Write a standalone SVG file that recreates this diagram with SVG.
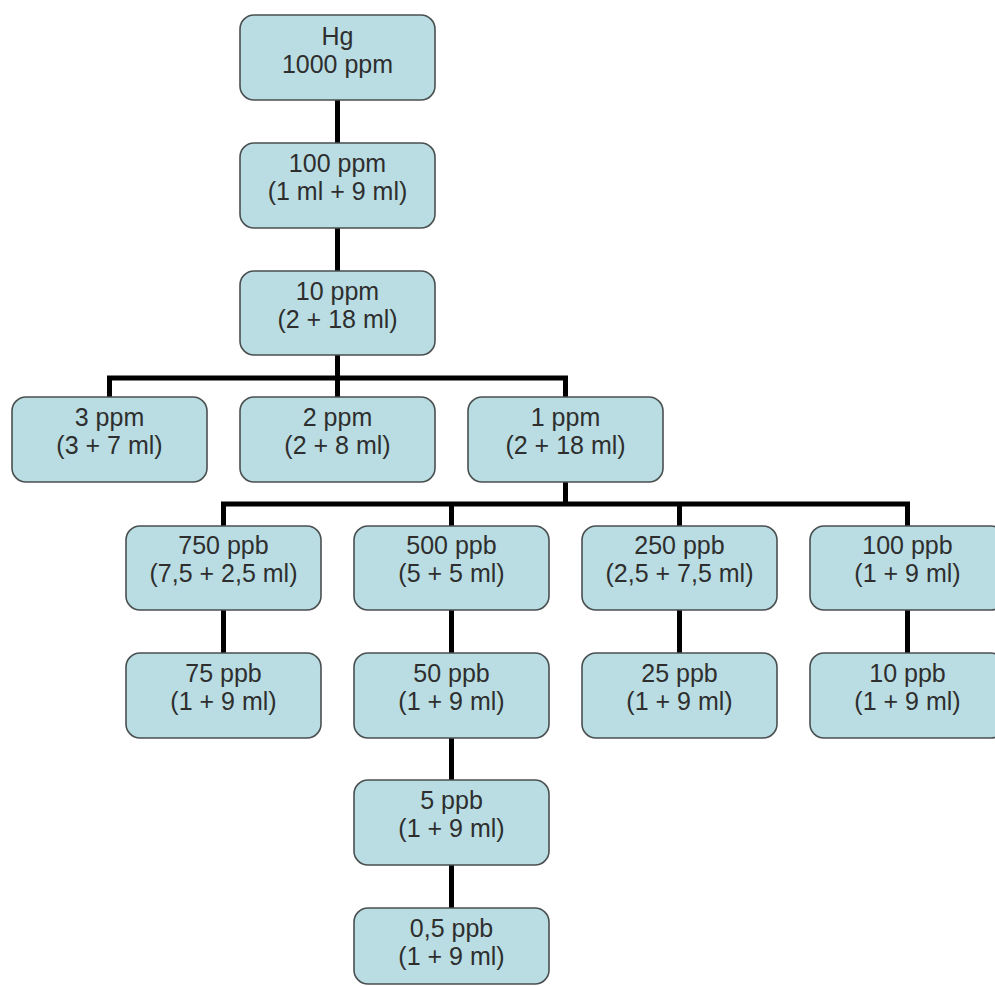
<svg xmlns="http://www.w3.org/2000/svg" width="995" height="987" viewBox="0 0 995 987">
<style>
.box{fill:#b9dde2;stroke:#4a4f50;stroke-width:1.6}
.t{font-family:"Liberation Sans",Arial,sans-serif;font-size:25px;fill:#2e2e2e;text-anchor:middle}
.c{fill:none;stroke:#000;stroke-width:5;stroke-linejoin:miter}
</style>
<rect width="995" height="987" fill="#fff"/>
<g id="connectors">
<path class="c" d="M337.5 100V143M337.5 228V271M337.5 355V397M109.5 397V378H565.5V397"/>
<path class="c" d="M565.5 482V504M223.5 526V504H907.5V526M451.5 504V526M679.5 504V526"/>
<path class="c" d="M223.5 610V653M451.5 610V653M679.5 610V653M907.5 610V653M451.5 738V780M451.5 865V908"/>
</g>
<g id="n_hg"><rect class="box" x="240" y="15" width="195" height="85" rx="14"/><text class="t" x="337.5" y="45">Hg</text><text class="t" x="337.5" y="73">1000 ppm</text></g>
<g id="n_100ppm"><rect class="box" x="240" y="143" width="195" height="85" rx="14"/><text class="t" x="337.5" y="172">100 ppm</text><text class="t" x="337.5" y="200">(1 ml + 9 ml)</text></g>
<g id="n_10ppm"><rect class="box" x="240" y="271" width="195" height="84" rx="14"/><text class="t" x="337.5" y="300">10 ppm</text><text class="t" x="337.5" y="328">(2 + 18 ml)</text></g>
<g id="n_3ppm"><rect class="box" x="12" y="397" width="195" height="85" rx="14"/><text class="t" x="109.5" y="426">3 ppm</text><text class="t" x="109.5" y="454">(3 + 7 ml)</text></g>
<g id="n_2ppm"><rect class="box" x="240" y="397" width="195" height="85" rx="14"/><text class="t" x="337.5" y="426">2 ppm</text><text class="t" x="337.5" y="454">(2 + 8 ml)</text></g>
<g id="n_1ppm"><rect class="box" x="468" y="397" width="195" height="85" rx="14"/><text class="t" x="565.5" y="426">1 ppm</text><text class="t" x="565.5" y="454">(2 + 18 ml)</text></g>
<g id="n_750ppb"><rect class="box" x="126" y="526" width="195" height="84" rx="14"/><text class="t" x="223.5" y="554">750 ppb</text><text class="t" x="223.5" y="582">(7,5 + 2,5 ml)</text></g>
<g id="n_500ppb"><rect class="box" x="354" y="526" width="195" height="84" rx="14"/><text class="t" x="451.5" y="554">500 ppb</text><text class="t" x="451.5" y="582">(5 + 5 ml)</text></g>
<g id="n_250ppb"><rect class="box" x="582" y="526" width="195" height="84" rx="14"/><text class="t" x="679.5" y="554">250 ppb</text><text class="t" x="679.5" y="582">(2,5 + 7,5 ml)</text></g>
<g id="n_100ppb"><rect class="box" x="810" y="526" width="195" height="84" rx="14"/><text class="t" x="907.5" y="554">100 ppb</text><text class="t" x="907.5" y="582">(1 + 9 ml)</text></g>
<g id="n_75ppb"><rect class="box" x="126" y="653" width="195" height="85" rx="14"/><text class="t" x="223.5" y="682">75 ppb</text><text class="t" x="223.5" y="710">(1 + 9 ml)</text></g>
<g id="n_50ppb"><rect class="box" x="354" y="653" width="195" height="85" rx="14"/><text class="t" x="451.5" y="682">50 ppb</text><text class="t" x="451.5" y="710">(1 + 9 ml)</text></g>
<g id="n_25ppb"><rect class="box" x="582" y="653" width="195" height="85" rx="14"/><text class="t" x="679.5" y="682">25 ppb</text><text class="t" x="679.5" y="710">(1 + 9 ml)</text></g>
<g id="n_10ppb"><rect class="box" x="810" y="653" width="195" height="85" rx="14"/><text class="t" x="907.5" y="682">10 ppb</text><text class="t" x="907.5" y="710">(1 + 9 ml)</text></g>
<g id="n_5ppb"><rect class="box" x="354" y="780" width="195" height="85" rx="14"/><text class="t" x="451.5" y="809">5 ppb</text><text class="t" x="451.5" y="837">(1 + 9 ml)</text></g>
<g id="n_05ppb"><rect class="box" x="354" y="908" width="195" height="76" rx="14"/><text class="t" x="451.5" y="937">0,5 ppb</text><text class="t" x="451.5" y="965">(1 + 9 ml)</text></g>
</svg>
